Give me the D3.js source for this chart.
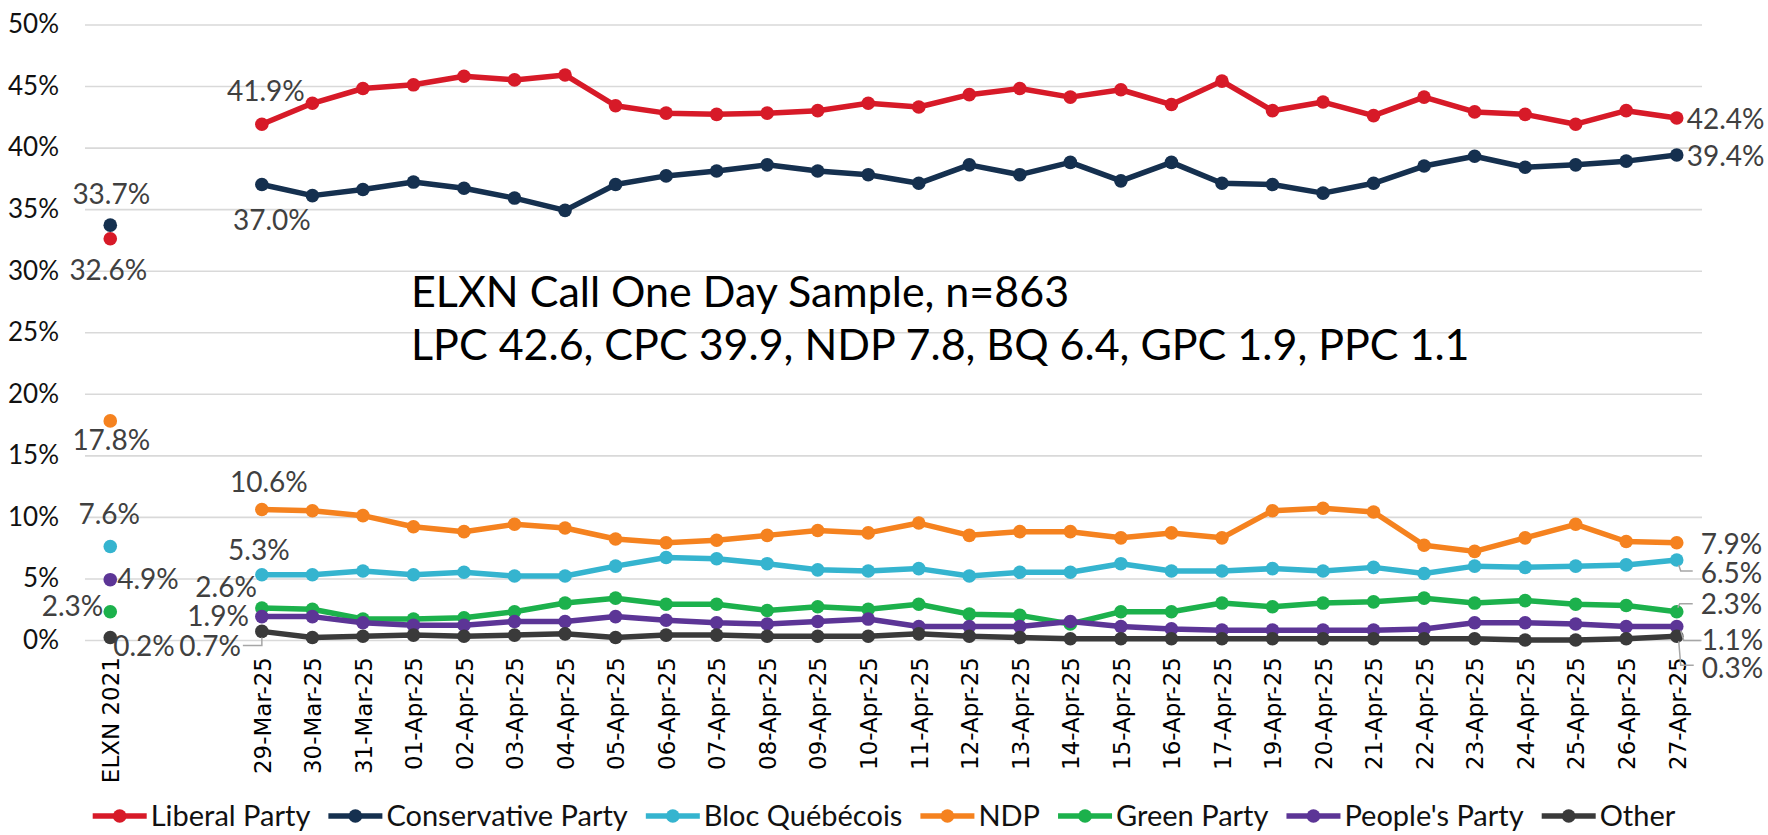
<!DOCTYPE html>
<html>
<head>
<meta charset="utf-8">
<script src="https://cdn.jsdelivr.net/npm/d3@7"></script>
<style>
  body { margin: 0; background: #fff; }
</style>
</head>
<body>
<div id="chart"></div>
<script>
// categories: election 2021 result, two empty slots, then the daily samples
const categories = ["ELXN 2021", "", "",
  "29-Mar-25", "30-Mar-25", "31-Mar-25", "01-Apr-25", "02-Apr-25", "03-Apr-25", "04-Apr-25",
  "05-Apr-25", "06-Apr-25", "07-Apr-25", "08-Apr-25", "09-Apr-25", "10-Apr-25", "11-Apr-25",
  "12-Apr-25", "13-Apr-25", "14-Apr-25", "15-Apr-25", "16-Apr-25", "17-Apr-25", "19-Apr-25",
  "20-Apr-25", "21-Apr-25", "22-Apr-25", "23-Apr-25", "24-Apr-25", "25-Apr-25", "26-Apr-25",
  "27-Apr-25"];

const parties = ["Liberal Party", "Conservative Party", "Bloc Québécois", "NDP",
  "Green Party", "People's Party", "Other"];

const liberal = [32.6, null, null,
  41.9, 43.6, 44.8, 45.1, 45.8, 45.5, 45.9, 43.4, 42.8, 42.7, 42.8, 43.0, 43.6, 43.3,
  44.3, 44.8, 44.1, 44.7, 43.5, 45.4, 43.0, 43.7, 42.6, 44.1, 42.9, 42.7, 41.9, 43.0, 42.4];
const conservative = [33.7, null, null,
  37.0, 36.1, 36.6, 37.2, 36.7, 35.9, 34.9, 37.0, 37.7, 38.1, 38.6, 38.1, 37.8, 37.1,
  38.6, 37.8, 38.8, 37.3, 38.8, 37.1, 37.0, 36.3, 37.1, 38.5, 39.3, 38.4, 38.6, 38.9, 39.4];
const bloc = [7.6, null, null,
  5.3, 5.3, 5.6, 5.3, 5.5, 5.2, 5.2, 6.0, 6.7, 6.6, 6.2, 5.7, 5.6, 5.8,
  5.2, 5.5, 5.5, 6.2, 5.6, 5.6, 5.8, 5.6, 5.9, 5.4, 6.0, 5.9, 6.0, 6.1, 6.5];
const ndp = [17.8, null, null,
  10.6, 10.5, 10.1, 9.2, 8.8, 9.4, 9.1, 8.2, 7.9, 8.1, 8.5, 8.9, 8.7, 9.5,
  8.5, 8.8, 8.8, 8.3, 8.7, 8.3, 10.5, 10.7, 10.4, 7.7, 7.2, 8.3, 9.4, 8.0, 7.9];
const green = [2.3, null, null,
  2.6, 2.5, 1.7, 1.7, 1.8, 2.3, 3.0, 3.4, 2.9, 2.9, 2.4, 2.7, 2.5, 2.9,
  2.1, 2.0, 1.3, 2.3, 2.3, 3.0, 2.7, 3.0, 3.1, 3.4, 3.0, 3.2, 2.9, 2.8, 2.3];
const peoples = [4.9, null, null,
  1.9, 1.9, 1.4, 1.2, 1.2, 1.5, 1.5, 1.9, 1.6, 1.4, 1.3, 1.5, 1.7, 1.1,
  1.1, 1.1, 1.5, 1.1, 0.9, 0.8, 0.8, 0.8, 0.8, 0.9, 1.4, 1.4, 1.3, 1.1, 1.1];
const other = [0.2, null, null,
  0.7, 0.2, 0.3, 0.4, 0.3, 0.4, 0.5, 0.2, 0.4, 0.4, 0.3, 0.3, 0.3, 0.5,
  0.3, 0.2, 0.1, 0.1, 0.1, 0.1, 0.1, 0.1, 0.1, 0.1, 0.1, 0.0, 0.0, 0.1, 0.3];

const yTicks = [0, 5, 10, 15, 20, 25, 30, 35, 40, 45, 50];

const noteLines = ["ELXN Call One Day Sample, n=863",
  "LPC 42.6, CPC 39.9, NDP 7.8, BQ 6.4, GPC 1.9, PPC 1.1"];

const values = [liberal, conservative, bloc, ndp, green, peoples, other];
const colors = ["#d71a28", "#15304f", "#35b4cf", "#f5821f", "#1cb14c", "#5c3596", "#3a3a3a"];

// where each data label sits relative to its point: [index, dx, dy, anchor]
const labelPos = [
  [[0, -2, 32, "middle"], [3, 4, -33, "middle"], [31, 10, 1, "start"]],
  [[0, 1, -31, "middle"], [3, 10, 36, "middle"], [31, 10, 1, "start"]],
  [[0, -1, -32, "middle"], [3, -3, -25, "middle"], [31, 24, 13, "start"]],
  [[0, 1, 19, "middle"], [3, 7, -27, "middle"], [31, 24, 1, "start"]],
  [[0, -7, -5, "end"], [3, -5, -21, "end"], [31, 24, -7, "start"]],
  [[0, 7, 0, "start"], [3, -13, 0, "end"], [31, 25, 14, "start"]],
  [[0, 3, 9, "start"], [3, -21, 15, "end"], [31, 25, 32, "start"]]
];
// leader lines (relative to the point)
const leaders = [
  [6, 3, [[-19, 14], [0, 14], [0, 6]]],
  [2, 31, [[2, 5], [4, 11], [16, 11]]],
  [4, 31, [[1, -4], [3, -8], [16, -8]]],
  [5, 31, [[4, 4], [7, 14], [24, 14]]],
  [6, 31, [[2, 5], [4, 29], [17, 29]]]
];

const W = 1768, H = 835;
const x0 = 85, x1 = 1702, yTop = 24.5, yBot = 640;
const font = "Lato, sans-serif";

const svg = d3.select("#chart").append("svg")
    .attr("width", W)
    .attr("height", H);

const x = d3.scalePoint().domain(d3.range(categories.length)).range([x0, x1]).padding(0.5);
const y = d3.scaleLinear().domain([0, 50]).range([yBot, yTop]);

// gridlines
const grid = svg.append("g").attr("transform", `translate(${x0},0)`)
    .call(d3.axisLeft(y).tickValues(yTicks).tickSize(-(x1 - x0)).tickFormat(""));
grid.select(".domain").remove();
grid.selectAll("line").attr("stroke", "#d9d9d9").attr("stroke-width", 1.6);

// y axis labels
const yAxis = svg.append("g").attr("transform", `translate(${x0},0)`)
    .call(d3.axisLeft(y).tickValues(yTicks).tickSize(0).tickPadding(26).tickFormat(d => d + "%"));
yAxis.select(".domain").remove();
yAxis.selectAll("text")
    .attr("font-family", font)
    .attr("font-size", 26)
    .attr("fill", "#111");

// x axis labels, rotated
const xAxis = svg.append("g").attr("transform", `translate(0,${yBot})`)
    .call(d3.axisBottom(x).tickSize(0).tickFormat(i => categories[i]));
xAxis.select(".domain").remove();
xAxis.selectAll("text")
    .attr("transform", "rotate(-90)")
    .attr("x", -17)
    .attr("y", 0)
    .attr("dy", "0.36em")
    .attr("text-anchor", "end")
    .attr("font-family", "DejaVu Sans, sans-serif")
    .attr("font-size", 23)
    .attr("fill", "#000");

// note text
svg.append("g").selectAll("text").data(noteLines).enter().append("text")
    .attr("x", 411)
    .attr("y", (d, i) => 307 + i * 53)
    .attr("font-family", font)
    .attr("font-size", 43)
    .attr("fill", "#000")
    .text(d => d);

// series
const line = d3.line()
    .defined(d => d != null)
    .x((d, i) => x(i))
    .y(d => y(d));

parties.forEach((name, k) => {
    const g = svg.append("g");
    g.append("path")
        .datum(values[k])
        .attr("d", line)
        .attr("fill", "none")
        .attr("stroke", colors[k])
        .attr("stroke-width", 5.5)
        .attr("stroke-linejoin", "round");
    const pts = values[k].map((v, i) => ({v, i})).filter(d => d.v != null);
    g.selectAll("circle").data(pts).enter().append("circle")
        .attr("cx", d => x(d.i))
        .attr("cy", d => y(d.v))
        .attr("r", 6.8)
        .attr("fill", colors[k]);
});

// leader lines
leaders.forEach(([k, i, rel]) => {
    const px = x(i), py = y(values[k][i]);
    svg.append("path")
        .attr("d", d3.line()(rel.map(p => [px + p[0], py + p[1]])))
        .attr("fill", "none")
        .attr("stroke", "#a6a6a6")
        .attr("stroke-width", 1.5);
});

// data labels
parties.forEach((name, k) => {
    svg.append("g").selectAll("text").data(labelPos[k]).enter().append("text")
        .attr("x", d => x(d[0]) + d[1])
        .attr("y", d => y(values[k][d[0]]) + d[2])
        .attr("dy", "0.35em")
        .attr("text-anchor", d => d[3])
        .attr("font-family", font)
        .attr("font-size", 28)
        .attr("fill", "#404040")
        .text(d => values[k][d[0]].toFixed(1) + "%");
});

// legend
const legendY = 816;
const legend = svg.append("g");
let lx = 0;
parties.forEach((name, k) => {
    const item = legend.append("g").attr("transform", `translate(${lx},0)`);
    item.append("line")
        .attr("x1", 0).attr("x2", 54)
        .attr("stroke", colors[k])
        .attr("stroke-width", 5.5);
    item.append("circle")
        .attr("cx", 27)
        .attr("r", 6.8)
        .attr("fill", colors[k]);
    const t = item.append("text")
        .attr("x", 58)
        .attr("dy", "0.35em")
        .attr("font-family", font)
        .attr("font-size", 29)
        .attr("fill", "#111")
        .text(name);
    lx += 58 + t.node().getComputedTextLength() + 18;
});
legend.attr("transform", `translate(${(W - (lx - 18)) / 2},${legendY})`);
</script>
</body>
</html>
